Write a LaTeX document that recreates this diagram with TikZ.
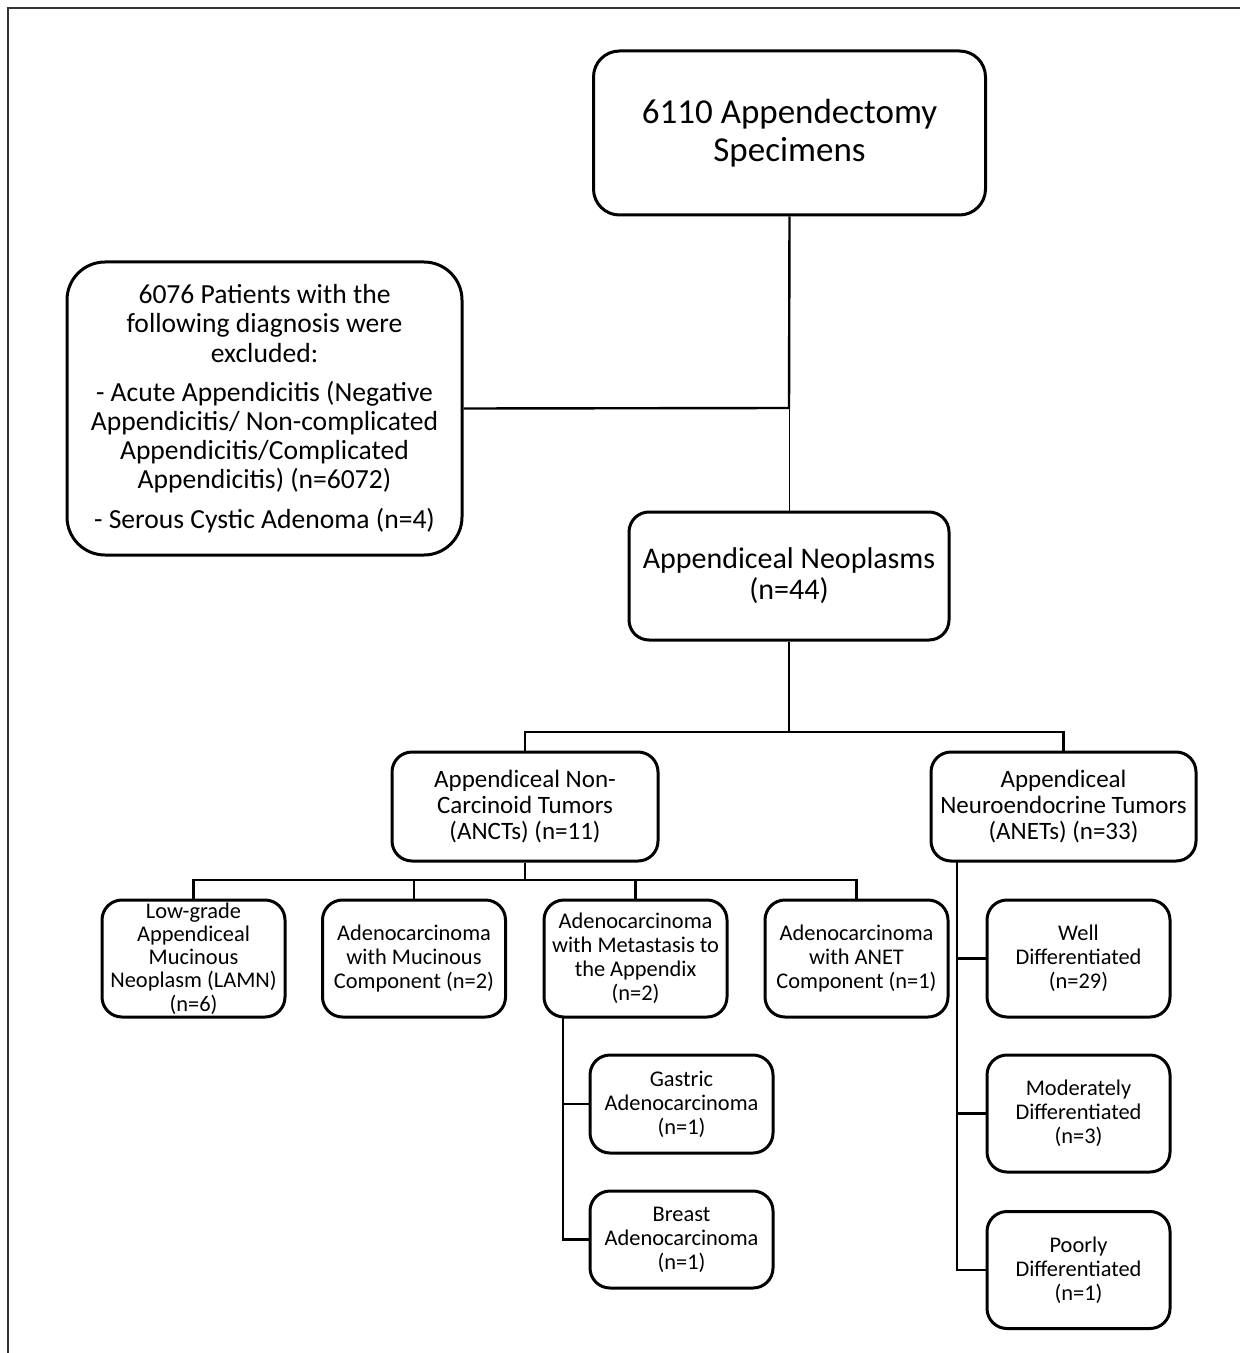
\documentclass[tikz,border=0pt]{standalone}
\usepackage{fontspec}
\setmainfont{Carlito}
\begin{document}
\begin{tikzpicture}[x=0.5pt,y=-0.5pt,
  box/.style={draw, line width=1.5pt, rounded corners=10pt, align=center, inner sep=0pt},
  leaf/.style={box, minimum width=91.5pt, minimum height=58.5pt, font=\fontsize{11.2}{12}\selectfont},
  link/.style={draw, line width=1.2pt}]
\definecolor{framegray}{rgb}{0.2,0.2,0.2}
\useasboundingbox (0,0) rectangle (1240,1353);
\draw[framegray, line width=1pt] (8,1353) -- (8,8) -- (1240,8);

\node[box, rounded corners=13pt, minimum width=196pt, minimum height=82pt, font=\fontsize{17.5}{19}\selectfont] (1) at (789.5,133) {6110 Appendectomy\\Specimens};
\node[box, rounded corners=19pt, minimum width=197.5pt, minimum height=146.5pt, font=\fontsize{13.8}{14.6}\selectfont] (2) at (264.5,408.5) {6076 Patients with the\\following diagnosis were\\excluded:\\[5pt]- Acute Appendicitis (Negative\\Appendicitis/ Non-complicated\\Appendicitis/Complicated\\Appendicitis) (n=6072)\\[5pt]- Serous Cystic Adenoma (n=4)};
\node[box, minimum width=160pt, minimum height=64pt, font=\fontsize{15}{15.5}\selectfont] (3) at (789,576) {Appendiceal Neoplasms\\(n=44)};
\node[box, minimum width=133pt, minimum height=54.5pt, font=\fontsize{12.5}{13}\selectfont] (4) at (525,806.5) {Appendiceal Non-\\Carcinoid Tumors\\(ANCTs) (n=11)};
\node[box, minimum width=132.5pt, minimum height=54.5pt, font=\fontsize{12.5}{13}\selectfont] (5) at (1063.5,806.5) {Appendiceal\\Neuroendocrine Tumors\\(ANETs) (n=33)};
\node[leaf, font=\fontsize{11.2}{11.6}\selectfont] (6) at (193.5,958.5) {Low-grade\\Appendiceal\\Mucinous\\Neoplasm (LAMN)\\(n=6)};
\node[leaf] (7) at (414,958.5) {Adenocarcinoma\\with Mucinous\\Component (n=2)};
\node[leaf] (8) at (635.5,958.5) {Adenocarcinoma\\with Metastasis to\\the Appendix\\(n=2)};
\node[leaf] (9) at (856.5,958.5) {Adenocarcinoma\\with ANET\\Component (n=1)};
\node[leaf] (10) at (1078.5,958.5) {Well\\Differentiated\\(n=29)};
\node[leaf, minimum height=49pt] (11) at (681.5,1104) {Gastric\\Adenocarcinoma\\(n=1)};
\node[leaf, minimum height=48.5pt] (12) at (681.5,1239.5) {Breast\\Adenocarcinoma\\(n=1)};
\node[leaf] (13) at (1078.5,1113.5) {Moderately\\Differentiated\\(n=3)};
\node[leaf] (14) at (1078.5,1270) {Poorly\\Differentiated\\(n=1)};

\coordinate (j1) at (789,408);
\coordinate (j2) at (789,732);
\coordinate (j3) at (525,880);
\coordinate (j4) at (563,1017);
\coordinate (j5) at (957,861);

\path[link] (1.south) -- (j1);
\path[link] (2.east) -- (j1);
\path[draw, line width=0.5pt] (j1) -- (3.north);
\path[link] (3.south) -- (j2);
\path[link] (j2) -| (4.north);
\path[link] (j2) -| (5.north);
\path[link] (4.south) -- (j3);
\path[link] (j3) -| (6.north);
\path[link] (j3) -| (7.north);
\path[link] (j3) -| (8.north);
\path[link] (j3) -| (9.north);
\path[link] (j4) |- (11.west);
\path[link] (j4) |- (12.west);
\path[link] (j5) |- (10.west);
\path[link] (j5) |- (13.west);
\path[link] (j5) |- (14.west);
\end{tikzpicture}
\end{document}
